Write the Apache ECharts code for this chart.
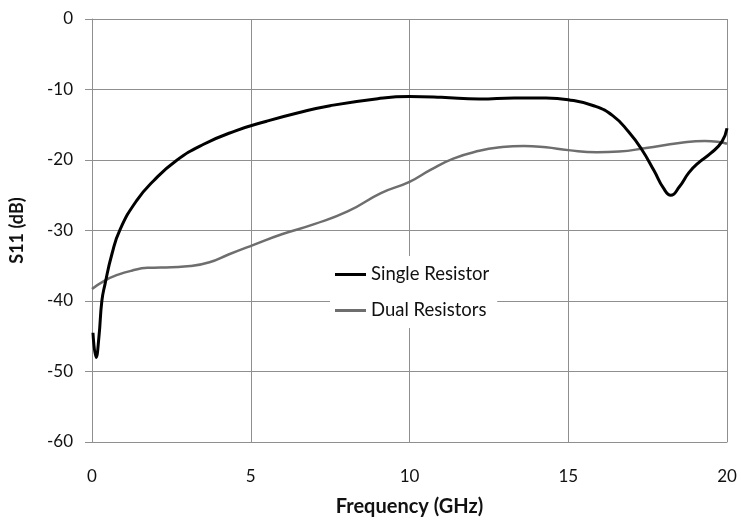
<!DOCTYPE html>
<html>
<head>
<meta charset="utf-8">
<title>S11 vs Frequency</title>
<script src="https://cdn.jsdelivr.net/npm/echarts@6/dist/echarts.min.js"></script>
<style>
    html, body { margin: 0; padding: 0; background: #fff; }
    #chart { width: 741px; height: 523px; }
</style>
</head>
<body>
<div id="chart"></div>
<script>
// ---------------- data ----------------

const seriesNames = ["Single Resistor", "Dual Resistors"];

// [frequency GHz, S11 dB]
const singleResistor = [
    [0.03, -44.5], [0.13, -48], [0.22, -45], [0.31, -40], [0.41, -37.6],
    [0.63, -33.3], [0.88, -29.9], [1.4, -25.8], [1.95, -22.9], [2.65, -20.1],
    [3.5, -17.8], [4.5, -15.9], [5.5, -14.5], [6.5, -13.3], [7.5, -12.3],
    [9, -11.3], [10, -11.0], [11, -11.1], [12.2, -11.35], [13.3, -11.2],
    [14.3, -11.2], [15, -11.45], [15.8, -12.3], [16.4, -13.7], [16.9, -16],
    [17.3, -18.4], [17.7, -21.5], [18, -24], [18.23, -25], [18.5, -23.8],
    [18.8, -21.8], [19.1, -20.4], [19.5, -19], [19.84, -17.4], [20, -15.5],
];

const dualResistors = [
    [0, -38.3], [0.4, -37.1], [0.8, -36.3], [1.25, -35.7], [1.75, -35.3],
    [2.5, -35.2], [3.1, -35.05], [3.7, -34.5], [4.3, -33.4], [5.05, -32.1],
    [6.0, -30.5], [7, -29.1], [8.05, -27.3], [9.1, -24.7], [10, -23.1],
    [10.66, -21.4], [11.38, -19.8], [12.2, -18.7], [12.85, -18.2], [13.6, -18.0],
    [14.3, -18.2], [15, -18.6], [15.9, -18.9], [16.6, -18.8], [17.45, -18.3],
    [18.5, -17.6], [19.3, -17.3], [19.7, -17.4], [20, -17.7],
];

const xTicks = { min: 0, max: 20, interval: 5 };
const yTicks = { min: -60, max: 0, interval: 10 };

// ---------------- chart ----------------

const FONT = "Lato, 'Open Sans', sans-serif";
const GRID_COLOR = "#8f8f8f";
const TEXT_COLOR = "#111";

const chart = echarts.init(document.getElementById("chart"));

chart.setOption({
    animation: false,
    backgroundColor: "#fff",
    textStyle: { fontFamily: FONT },

    grid: { left: 90, right: 14, top: 19, bottom: 81 },

    legend: {
        orient: "vertical",
        left: 330,
        top: 256,
        padding: [9, 8, 8, 5],
        backgroundColor: "#fff",
        icon: "rect",
        itemWidth: 31,
        itemHeight: 3,
        itemGap: 17,
        textStyle: { fontFamily: FONT, fontSize: 18.5, color: TEXT_COLOR },
        data: seriesNames,
    },

    xAxis: {
        type: "value",
        min: xTicks.min,
        max: xTicks.max,
        interval: xTicks.interval,
        name: "Frequency (GHz)",
        nameLocation: "middle",
        nameGap: 55,
        nameTextStyle: { fontFamily: FONT, fontSize: 20, fontWeight: "bold", color: TEXT_COLOR },
        axisLine: { show: true, onZero: false, lineStyle: { color: GRID_COLOR, width: 1 } },
        axisTick: { show: false },
        axisLabel: { margin: 26, fontSize: 17, color: TEXT_COLOR },
        splitLine: { show: true, lineStyle: { color: GRID_COLOR, width: 1 } },
    },

    yAxis: {
        type: "value",
        min: yTicks.min,
        max: yTicks.max,
        interval: yTicks.interval,
        name: "S11 (dB)",
        nameLocation: "middle",
        nameGap: 66,
        nameTextStyle: { fontFamily: FONT, fontSize: 18, fontWeight: "bold", color: TEXT_COLOR },
        axisLine: { show: true, lineStyle: { color: GRID_COLOR, width: 1 } },
        axisTick: { show: true, inside: false, length: 7, lineStyle: { color: GRID_COLOR } },
        axisLabel: { margin: 19, fontSize: 17, color: TEXT_COLOR },
        splitLine: { show: true, lineStyle: { color: GRID_COLOR, width: 1 } },
    },

    series: [
        {
            name: seriesNames[0],
            type: "line",
            data: singleResistor,
            smooth: 0.5,
            showSymbol: false,
            z: 3,
            lineStyle: { color: "#000", width: 3 },
            itemStyle: { color: "#000" },
        },
        {
            name: seriesNames[1],
            type: "line",
            data: dualResistors,
            smooth: 0.5,
            showSymbol: false,
            z: 2,
            lineStyle: { color: "#6e6e6e", width: 2.5 },
            itemStyle: { color: "#6e6e6e" },
        },
    ],
});
</script>
</body>
</html>
